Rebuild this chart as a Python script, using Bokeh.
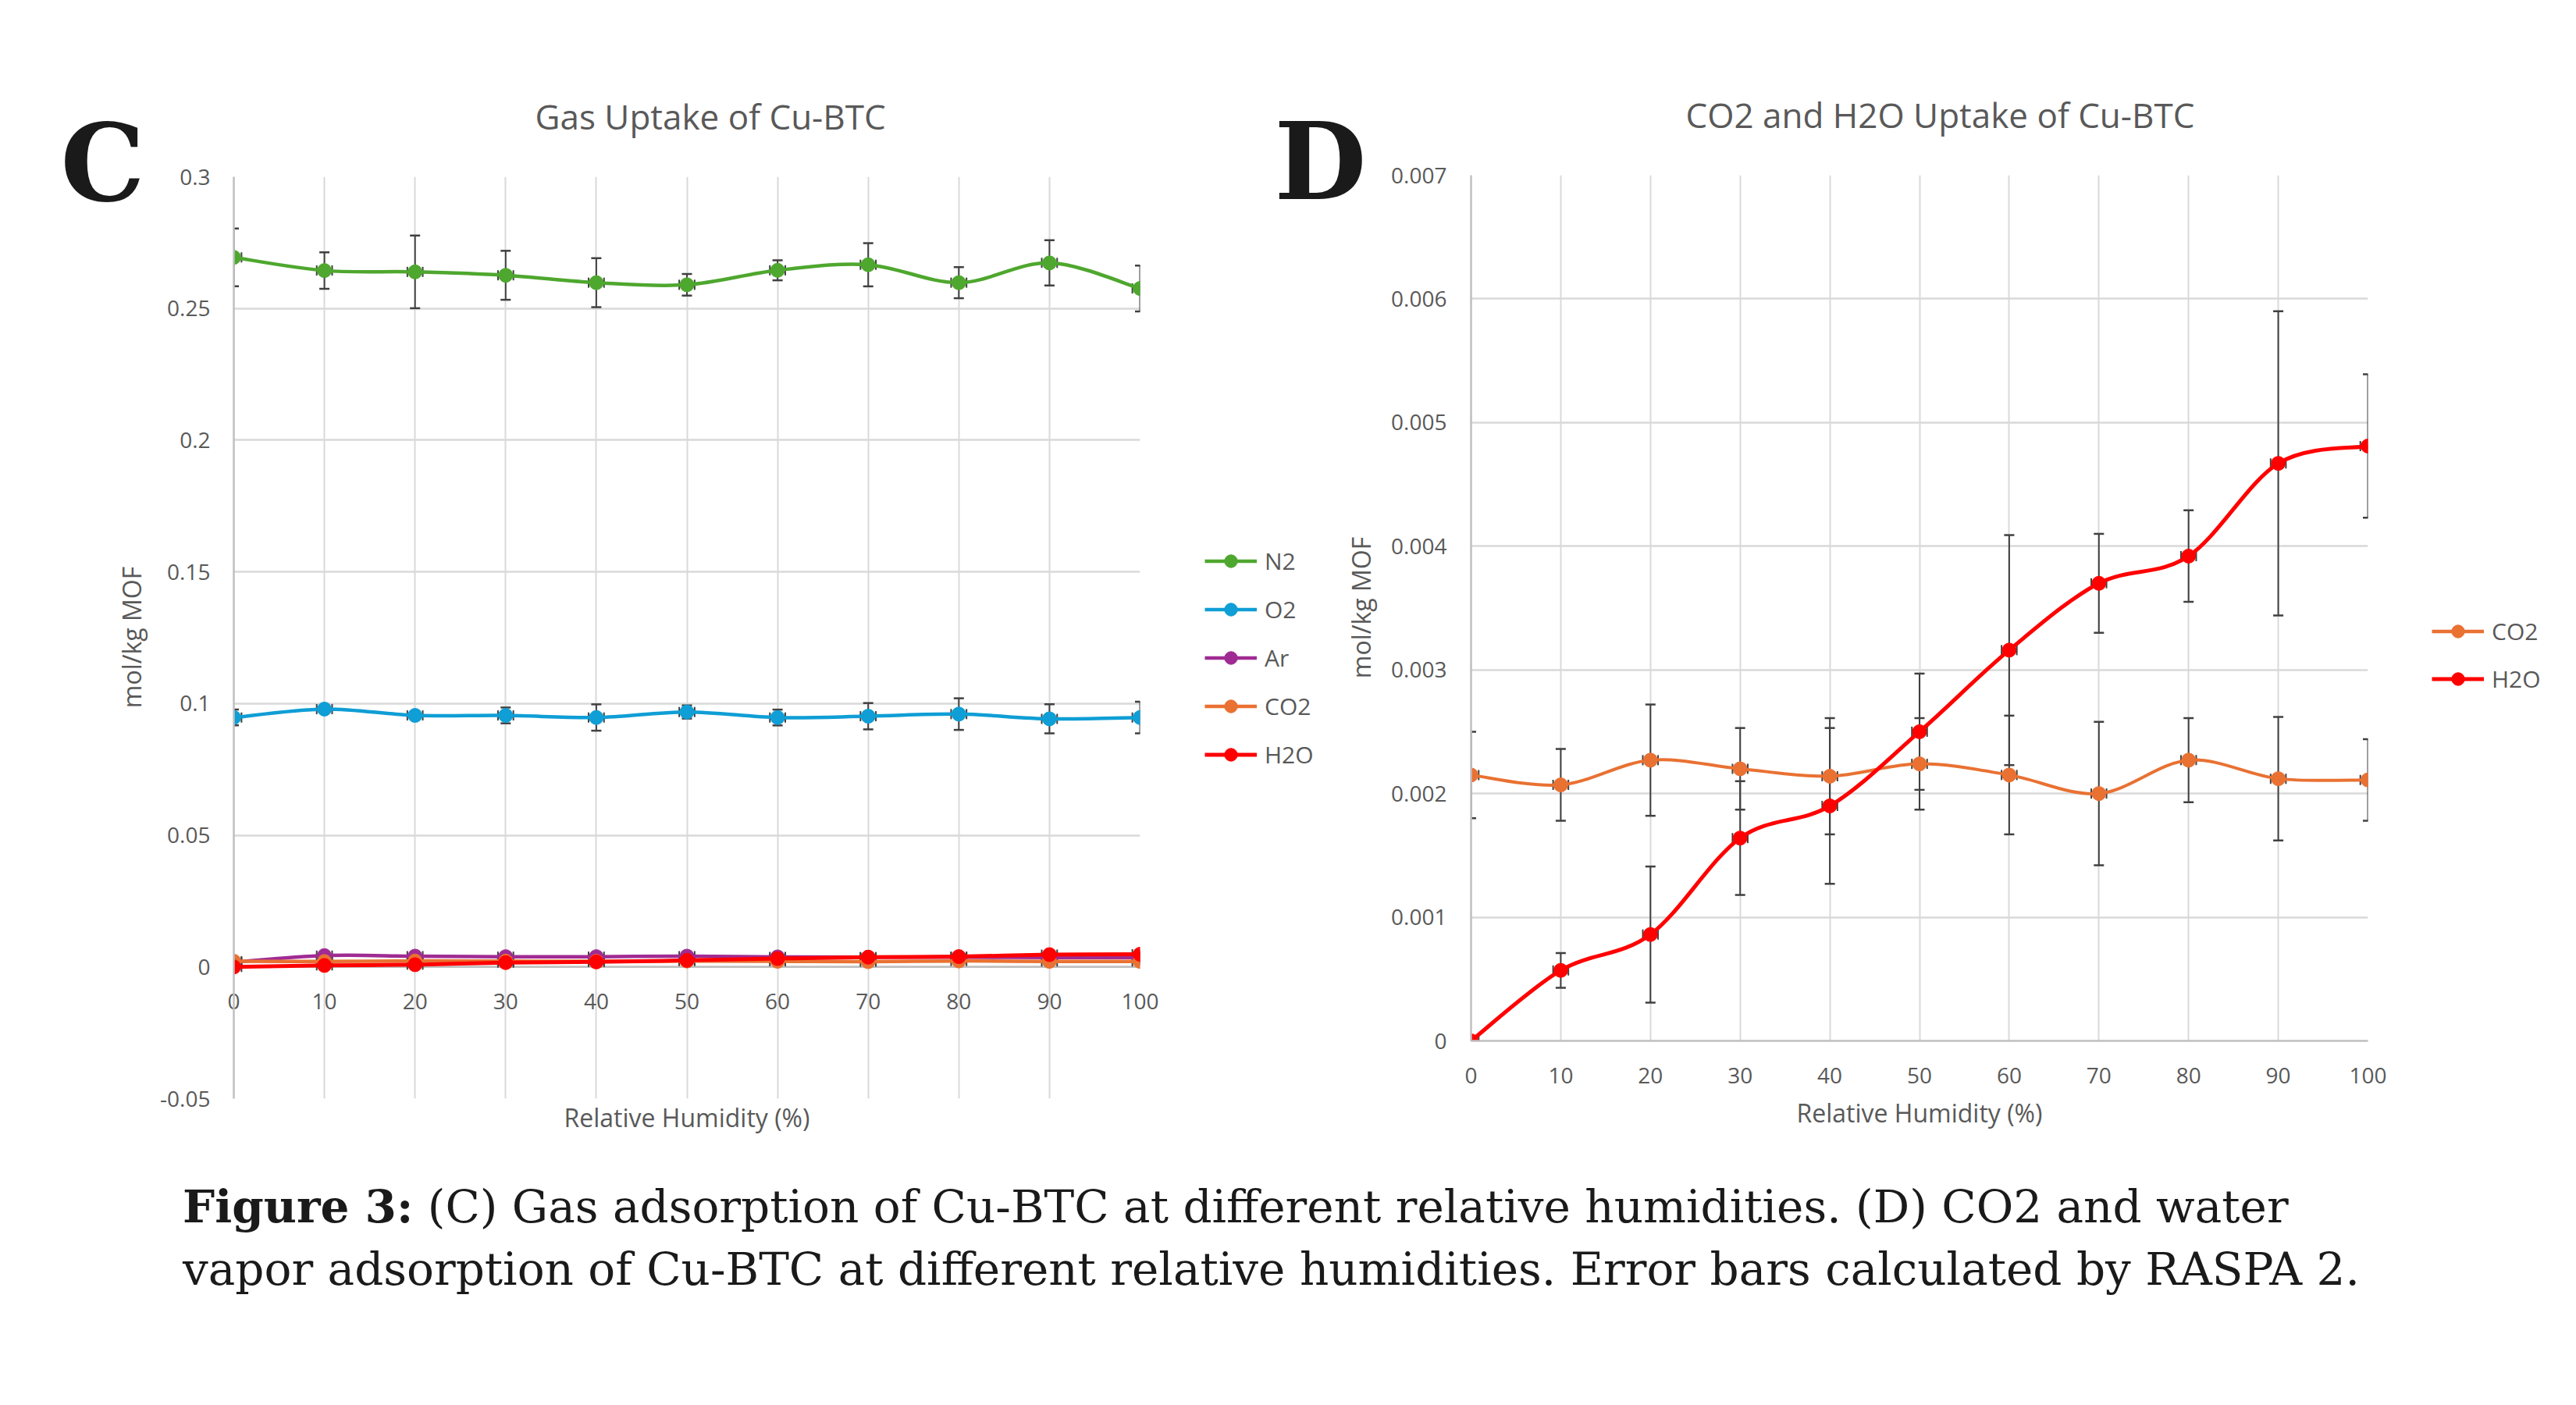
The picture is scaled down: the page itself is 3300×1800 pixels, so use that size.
import numpy as np
from bokeh.plotting import figure
from bokeh.models import (ColumnDataSource, Whisker, TeeHead, Legend, LegendItem,
                          FixedTicker, Label, Div, Range1d, Span)
from bokeh.layouts import column, row
from bokeh.embed import file_html
from bokeh.resources import INLINE

# ---------------- data ----------------
humidity = [0, 10, 20, 30, 40, 50, 60, 70, 80, 90, 100]

n2 = [0.2694, 0.2644, 0.2639, 0.2626, 0.2598, 0.2590, 0.2645, 0.2666, 0.2598, 0.2673, 0.2576]
n2_err = [0.0110, 0.0069, 0.0138, 0.0093, 0.0093, 0.0041, 0.0038, 0.0082, 0.0059, 0.0086, 0.0087]

o2 = [0.0947, 0.0979, 0.0955, 0.0955, 0.0947, 0.0968, 0.0947, 0.0952, 0.0960, 0.0942, 0.0947]
o2_err = [0.0030, 0.0010, 0.0015, 0.0030, 0.0050, 0.0025, 0.0030, 0.0050, 0.0060, 0.0055, 0.0060]

ar = [0.0018, 0.0043, 0.0041, 0.0039, 0.0039, 0.0041, 0.0038, 0.0037, 0.0037, 0.0036, 0.0036]
ar_err = [0.0003, 0.0003, 0.0003, 0.0003, 0.0003, 0.0003, 0.0003, 0.0003, 0.0003, 0.0003, 0.0003]

co2 = [0.00215, 0.00207, 0.00227, 0.00220, 0.00214, 0.00224, 0.00215, 0.00200, 0.00227, 0.00212, 0.00211]
co2_err = [0.00035, 0.00029, 0.00045, 0.00033, 0.00047, 0.00037, 0.00048, 0.00058, 0.00034, 0.00050, 0.00033]

h2o = [0.0, 0.00057, 0.00086, 0.00164, 0.00190, 0.00250, 0.00316, 0.00370, 0.00392, 0.00467, 0.00481]
h2o_err = [0.0, 0.00014, 0.00055, 0.00046, 0.00063, 0.00047, 0.00093, 0.00040, 0.00037, 0.00123, 0.00058]

x_ticks = [0, 10, 20, 30, 40, 50, 60, 70, 80, 90, 100]
x_tick_labels = ["0", "10", "20", "30", "40", "50", "60", "70", "80", "90", "100"]
left_y_ticks = [-0.05, 0, 0.05, 0.1, 0.15, 0.2, 0.25, 0.3]
left_y_tick_labels = ["-0.05", "0", "0.05", "0.1", "0.15", "0.2", "0.25", "0.3"]
right_y_ticks = [0, 0.001, 0.002, 0.003, 0.004, 0.005, 0.006, 0.007]
right_y_tick_labels = ["0", "0.001", "0.002", "0.003", "0.004", "0.005", "0.006", "0.007"]

left_title = "Gas Uptake of Cu-BTC"
right_title = "CO2 and H2O Uptake of Cu-BTC"
x_label = "Relative Humidity (%)"
y_label = "mol/kg MOF"

COLORS = {"N2": "#4EA72E", "O2": "#0F9ED5", "Ar": "#A02B93", "CO2": "#E97132", "H2O": "#FF0000"}
TXT = "#595959"
GRID = "#D9D9D9"
AXIS = "#BFBFBF"
ERR = "#404040"
FONT = "Open Sans"
H = 1480


def bezier_source(x, y):
    x = np.asarray(x, float)
    y = np.asarray(y, float)
    n = len(x)
    qx = np.concatenate([[x[0]], x, [x[-1]]])
    qy = np.concatenate([[y[0]], y, [y[-1]]])
    return ColumnDataSource(dict(
        x0=x[:-1], y0=y[:-1], x1=x[1:], y1=y[1:],
        cx0=qx[1:n] + (qx[2:n + 1] - qx[0:n - 1]) / 6.0,
        cy0=qy[1:n] + (qy[2:n + 1] - qy[0:n - 1]) / 6.0,
        cx1=qx[2:n + 1] - (qx[3:n + 2] - qx[1:n]) / 6.0,
        cy1=qy[2:n + 1] - (qy[3:n + 2] - qy[1:n]) / 6.0,
    ))


def add_series(p, name, ys, errs, lw):
    color = COLORS[name]
    ys = np.asarray(ys, float)
    errs = np.asarray(errs, float)
    xs = np.asarray(humidity, float)
    esrc = ColumnDataSource(dict(x=xs, y=ys, lo=ys - errs, hi=ys + errs,
                                 xl=xs - 0.85, xu=xs + 0.85))
    p.add_layout(Whisker(source=esrc, base="x", lower="lo", upper="hi", dimension="height",
                         line_color=ERR, line_width=2, level="underlay",
                         upper_head=TeeHead(size=13, line_color=ERR, line_width=2.5),
                         lower_head=TeeHead(size=13, line_color=ERR, line_width=2.5)))
    p.add_layout(Whisker(source=esrc, base="y", lower="xl", upper="xu", dimension="width",
                         line_color=ERR, line_alpha=0, line_width=1, level="underlay",
                         upper_head=TeeHead(size=13, line_color=ERR, line_width=2),
                         lower_head=TeeHead(size=13, line_color=ERR, line_width=2)))
    p.bezier(x0="x0", y0="y0", x1="x1", y1="y1", cx0="cx0", cy0="cy0",
             cx1="cx1", cy1="cy1", source=bezier_source(xs, ys),
             line_color=color, line_width=lw)
    p.scatter(xs, ys, size=18, marker="circle", fill_color=color, line_color=color)


def style_chart(p, title_offset):
    p.outline_line_color = None
    p.background_fill_color = "white"
    p.border_fill_color = "white"
    p.title.align = "left"
    p.title.offset = title_offset
    p.title.standoff = 95
    p.title.text_font = FONT
    p.title.text_font_style = "normal"
    p.title.text_font_size = "44px"
    p.title.text_color = TXT
    for ax in p.axis:
        ax.major_tick_out = 0
        ax.major_tick_in = 0
        ax.minor_tick_line_color = None
        ax.major_label_text_font = FONT
        ax.major_label_text_font_size = "28px"
        ax.major_label_text_color = TXT
        ax.axis_label_text_font = FONT
        ax.axis_label_text_font_size = "32px"
        ax.axis_label_text_font_style = "normal"
        ax.axis_label_text_color = TXT
        ax.axis_line_color = AXIS
        ax.axis_line_width = 2.5
    p.xgrid.grid_line_color = GRID
    p.xgrid.grid_line_width = 2
    p.ygrid.grid_line_color = GRID
    p.ygrid.grid_line_width = 2.5


def strip(x0, x1):
    """A blank canvas strip whose data units are page pixels (y downwards)."""
    s = figure(width=x1 - x0, height=H, output_backend="svg", toolbar_location=None,
               x_range=Range1d(x0, x1), y_range=Range1d(H, 0),
               x_axis_location=None, y_axis_location=None, min_border=0,
               frame_align=False)
    s.grid.visible = False
    s.outline_line_color = None
    s.background_fill_color = "white"
    s.border_fill_color = "white"
    return s


def legend_in(s, names, loc, spacing):
    items = []
    for name in names:
        c = COLORS[name]
        lw = 5 if name == "H2O" else 4.5
        # legend-only renderers: a single NaN point draws nothing on the canvas
        r1 = s.line([np.nan], [np.nan], line_color=c, line_width=lw)
        r2 = s.scatter([np.nan], [np.nan], size=18, marker="circle", fill_color=c,
                       line_color=c)
        items.append(LegendItem(label=name, renderers=[r1, r2]))
    s.add_layout(Legend(items=items, location=loc, orientation="vertical",
                        label_text_font=FONT, label_text_font_size="30px",
                        label_text_color=TXT, glyph_width=67, glyph_height=41,
                        label_height=41, spacing=spacing, label_standoff=10,
                        padding=0, margin=0, border_line_color=None,
                        background_fill_alpha=0))


def letter(s, text, x, y, size):
    s.add_layout(Label(x=x, y=y, text=text, text_font="DejaVu Serif",
                       text_font_style="bold", text_font_size=size,
                       text_color="#1A1A1A", text_baseline="alphabetic"))


def ytitle(s, x, y):
    s.add_layout(Label(x=x, y=y, text=y_label, angle=90, angle_units="deg",
                       text_align="center", text_baseline="middle", text_font=FONT,
                       text_font_size="32px", text_color=TXT))


# ---------------- left chart (C) ----------------
pl = figure(width=1310, height=H, output_backend="svg", toolbar_location=None,
            x_range=Range1d(0, 100), y_range=Range1d(-0.05, 0.3),
            min_border_left=109, min_border_right=40, min_border_top=226, min_border_bottom=73,
            title=left_title, frame_align=False)
pl.xaxis.ticker = FixedTicker(ticks=x_ticks)
pl.xaxis.major_label_overrides = dict(zip(x_ticks, x_tick_labels))
pl.xaxis.major_label_standoff = -135
pl.xaxis.axis_label = x_label
pl.xaxis.axis_label_standoff = 114
pl.yaxis.ticker = FixedTicker(ticks=left_y_ticks)
pl.yaxis.major_label_overrides = dict(zip(left_y_ticks, left_y_tick_labels))
pl.yaxis.major_label_standoff = 30
style_chart(pl, 386)
pl.xaxis.axis_line_color = None
pl.add_layout(Span(location=0, dimension="width", line_color=AXIS, line_width=2.5,
                   level="underlay"))
add_series(pl, "N2", n2, n2_err, 4.5)
add_series(pl, "O2", o2, o2_err, 4.5)
add_series(pl, "Ar", ar, ar_err, 4.5)
add_series(pl, "CO2", co2, co2_err, 4.5)
add_series(pl, "H2O", h2o, h2o_err, 5)

# ---------------- right chart (D) ----------------
pr = figure(width=1300, height=H, output_backend="svg", toolbar_location=None,
            x_range=Range1d(0, 100), y_range=Range1d(0, 0.007),
            min_border_left=114, min_border_right=37, min_border_top=224, min_border_bottom=147,
            title=right_title, frame_align=False)
pr.xaxis.ticker = FixedTicker(ticks=x_ticks)
pr.xaxis.major_label_overrides = dict(zip(x_ticks, x_tick_labels))
pr.xaxis.major_label_standoff = 34
pr.xaxis.axis_label = x_label
pr.xaxis.axis_label_standoff = 13
pr.yaxis.ticker = FixedTicker(ticks=right_y_ticks)
pr.yaxis.major_label_overrides = dict(zip(right_y_ticks, right_y_tick_labels))
pr.yaxis.major_label_standoff = 31
style_chart(pr, 275)
add_series(pr, "CO2", co2, co2_err, 4)
add_series(pr, "H2O", h2o, h2o_err, 5)

# ---------------- side strips: panel letters, y titles, legends ----------------
s1 = strip(0, 190)
letter(s1, "C", 77, 208, "136px")
ytitle(s1, 168, 816)

s2 = strip(1500, 1770)
legend_in(s2, ["N2", "O2", "Ar", "CO2", "H2O"], (43, 493), 21)
letter(s2, "D", 1632, 206, "136px")
ytitle(s2, 1743, 778)

s3 = strip(3070, 3300)
legend_in(s3, ["CO2", "H2O"], (45, 590), 20)

# ---------------- caption ----------------
caption = Div(
    text=("<b>Figure 3:</b> (C) Gas adsorption of Cu-BTC at different relative humidities. "
          "(D) CO2 and water<br>vapor adsorption of Cu-BTC at different relative humidities. "
          "Error bars calculated by RASPA 2."),
    width=3000, height=200, margin=(26, 0, 0, 234),
    styles={"font-family": "DejaVu Serif", "font-size": "58px", "line-height": "80px",
            "color": "#1A1A1A", "white-space": "nowrap"})

layout = column(row(s1, pl, s2, pr, s3), caption)
open("out.html", "w").write(file_html(layout, INLINE))
